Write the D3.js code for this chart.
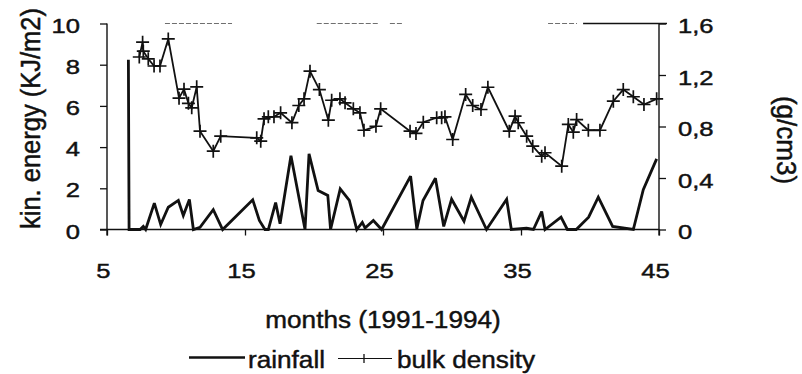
<!DOCTYPE html>
<html><head><meta charset="utf-8">
<script src="https://cdn.jsdelivr.net/npm/d3@7"></script>
<style>html,body{margin:0;padding:0;background:#fff;} svg{display:block;}</style>
</head><body>
<svg id="chart" width="802" height="374"></svg>
<script>
// ---- data ----
const rainMonths = [6.55, 6.6, 7.4, 7.63, 7.8, 8.43, 8.89, 9.44, 10.17, 10.53, 10.97, 11.26, 11.74, 12.7, 13.38,
  15.56, 16.04, 16.45, 16.69, 17.22, 17.54, 18.33, 19.35, 19.64, 20.3, 21.0, 21.2, 21.9, 22.56, 23.1,
  23.5, 23.7, 24.3, 24.9, 27.0, 27.45, 27.9, 28.8, 29.4, 29.97, 30.87, 31.4, 32.5, 33.96, 34.3,
  35.4, 35.9, 36.5, 36.74, 37.9, 38.36, 39.0, 39.9, 40.6, 41.64, 43.14, 43.86, 44.83];
const rainValues = [8.24, 0, 0, 0.15, 0, 1.28, 0.24, 1.08, 1.41, 0.68, 1.46, 0, 0.11, 0.96, 0,
  1.44, 0.44, 0, 0, 1.31, 0.28, 3.58, 0, 3.67, 1.89, 1.65, 0, 1.97, 1.41, 0,
  0.35, 0.07, 0.44, 0, 2.59, 0.03, 1.41, 2.49, 0.15, 1.47, 0.4, 1.57, 0, 1.47, 0,
  0.06, 0, 0.87, 0, 0.6, 0, 0, 0.6, 1.57, 0.15, 0, 1.93, 3.43];
const densityMonths = [7.34, 7.58, 7.63, 7.99, 8.41, 8.84, 9.44, 10.22, 10.58, 10.9, 11.14, 11.5, 11.74, 12.7, 13.24,
  15.85, 16.14, 16.38, 16.69, 17.1, 17.58, 18.4, 18.9, 19.28, 19.71, 20.39, 21.04, 21.28, 21.88, 22.25,
  22.85, 23.33, 23.62, 24.49, 24.83, 26.96, 27.39, 27.92, 28.89, 29.25, 29.49, 30.05, 30.99, 31.5, 32.1,
  32.6, 34.15, 34.57, 34.8, 35.41, 35.85, 36.5, 36.74, 37.95, 38.43, 38.79, 39.03, 39.88, 40.72, 41.69,
  42.41, 43.14, 43.91, 44.83];
const densityValues = [1.34, 1.455, 1.385, 1.326, 1.27, 1.27, 1.48, 1.02, 1.09, 0.98, 0.945, 1.108, 0.764, 0.608, 0.725,
  0.712, 0.686, 0.86, 0.875, 0.875, 0.906, 0.83, 0.963, 1.015, 1.23, 1.087, 0.849, 1.004, 1.015, 0.984,
  0.937, 0.906, 0.771, 0.802, 0.937, 0.764, 0.746, 0.833, 0.868, 0.868, 0.875, 0.699, 1.049, 0.963, 0.932,
  1.105, 0.764, 0.88, 0.829, 0.725, 0.647, 0.569, 0.596, 0.492, 0.816, 0.756, 0.854, 0.771, 0.771, 0.997,
  1.087, 1.031, 0.971, 1.015];
const xTicks = [5, 15, 25, 35, 45];
const leftTicks = [0, 2, 4, 6, 8, 10];
const rightTicks = [0, 0.4, 0.8, 1.2, 1.6];
const topFrameMonths = [[9.2, 14.06], [20.2, 24.64], [25.5, 26.4], [36.96, 39.06], [39.5, 45]];
const legendLabels = ["rainfall", "bulk density"];
const xTitle = "months (1991-1994)";
const yLeftTitle = "kin. energy (KJ/m2)";
const yRightTitle = "(g/cm3)";

// ---- chart ----
const svg = d3.select("#chart");
const FONT = "'Liberation Sans', Arial, Helvetica, sans-serif";
const INK = "#111";
const L = 107, R = 659, T = 23.5, B = 229.5;

const x = d3.scaleLinear().domain([5, 45]).range([L, R]);
const yL = d3.scaleLinear().domain([0, 10]).range([B, T]);
const yR = d3.scaleLinear().domain([0, 1.6]).range([B, T]);
const loc = d3.formatLocale({decimal: ",", thousands: ".", grouping: [3], currency: ["", ""]});
const fmtR = d => d === 0 ? "0" : loc.format(".1f")(d);

function styleAxis(g, tx, ty, sx) {
  g.select(".domain").remove();
  g.selectAll(".tick line").attr("stroke", INK).attr("stroke-width", 1.3);
  g.selectAll(".tick text")
    .attr("x", 0).attr("y", 0).attr("dy", null)
    .attr("transform", `translate(${tx},${ty}) scale(${sx},1)`)
    .attr("font-size", 21).attr("font-family", FONT).attr("fill", INK)
    .attr("stroke", INK).attr("stroke-width", 0.45);
}

// left axis
const gL = svg.append("g").attr("transform", `translate(${L},0)`)
  .call(d3.axisLeft(yL).tickValues(leftTicks).tickSize(7).tickFormat(d3.format("d")));
styleAxis(gL, -27, 8.5, 1.22);
gL.append("line").attr("x1", 0).attr("x2", 0).attr("y1", T).attr("y2", B + 6)
  .attr("stroke", INK).attr("stroke-width", 1.4);

// right axis
const gR = svg.append("g").attr("transform", `translate(${R},0)`)
  .call(d3.axisRight(yR).tickValues(rightTicks).tickSize(7).tickFormat(fmtR));
styleAxis(gR, 19, 9, 1.22);
gR.append("line").attr("x1", 0).attr("x2", 0).attr("y1", T).attr("y2", B + 6)
  .attr("stroke", INK).attr("stroke-width", 1.4);

// bottom axis
const gB = svg.append("g").attr("transform", `translate(0,${B})`)
  .call(d3.axisBottom(x).tickValues(xTicks).tickSize(6).tickFormat(d3.format("d")));
styleAxis(gB, -4, 48.5, 1.22);
gB.append("line").attr("x1", L - 7).attr("x2", R).attr("y1", 0).attr("y2", 0)
  .attr("stroke", INK).attr("stroke-width", 1.4);

// faint top frame pieces
svg.append("g").selectAll("line").data(topFrameMonths).join("line")
  .attr("x1", d => x(d[0])).attr("x2", (d, i) => i === topFrameMonths.length - 1 ? x(d[1]) + 8 : x(d[1]))
  .attr("y1", T).attr("y2", T)
  .attr("stroke", INK).attr("stroke-width", (d, i) => i === topFrameMonths.length - 1 ? 1.4 : 1)
  .attr("stroke-dasharray", (d, i) => i === topFrameMonths.length - 1 ? null : "5,2")
  .attr("opacity", (d, i) => i === topFrameMonths.length - 1 ? 1 : 0.6);

// rainfall line
const rainLine = d3.line().x(i => x(rainMonths[i])).y(i => yL(rainValues[i]));
svg.append("path").attr("d", rainLine(d3.range(rainMonths.length)))
  .attr("fill", "none").attr("stroke", INK).attr("stroke-width", 2.8).attr("stroke-linejoin", "miter")
  .attr("stroke-miterlimit", 3);

// bulk density line + markers
const densLine = d3.line().x(i => x(densityMonths[i])).y(i => yR(densityValues[i]));
svg.append("path").attr("d", densLine(d3.range(densityMonths.length)))
  .attr("fill", "none").attr("stroke", INK).attr("stroke-width", 1.8);
svg.append("g").selectAll("path").data(d3.range(densityMonths.length)).join("path")
  .attr("transform", i => `translate(${x(densityMonths[i])},${yR(densityValues[i])})`)
  .attr("d", "M-6.5,0H6.5M0,-6.5V6.5")
  .attr("stroke", INK).attr("stroke-width", 1.7).attr("fill", "none");

// titles
function txt(str, tr, size, anchor) {
  return svg.append("text").text(str).attr("transform", tr)
    .attr("font-family", FONT).attr("font-size", size).attr("fill", INK)
    .attr("stroke", INK).attr("stroke-width", 0.45)
    .attr("text-anchor", anchor);
}
txt(xTitle, "translate(383,328) scale(1.09,1)", 24, "middle");
txt(yLeftTitle, "translate(40,118.5) rotate(-90) scale(1,1.09)", 25.5, "middle");
txt(yRightTitle, "translate(777,140) rotate(90) scale(1,1.09)", 26, "middle");

// legend
const lg = svg.append("g");
lg.append("line").attr("x1", 189).attr("x2", 245).attr("y1", 357.5).attr("y2", 357.5)
  .attr("stroke", INK).attr("stroke-width", 2.4);
txt(legendLabels[0], "translate(248,368) scale(1.09,1)", 24, "start");
lg.append("line").attr("x1", 338).attr("x2", 392).attr("y1", 358.5).attr("y2", 358.5)
  .attr("stroke", INK).attr("stroke-width", 1);
lg.append("line").attr("x1", 364).attr("x2", 364).attr("y1", 354).attr("y2", 363)
  .attr("stroke", INK).attr("stroke-width", 1.3);
txt(legendLabels[1], "translate(397,368) scale(1.09,1)", 24, "start");
</script>
</body></html>
